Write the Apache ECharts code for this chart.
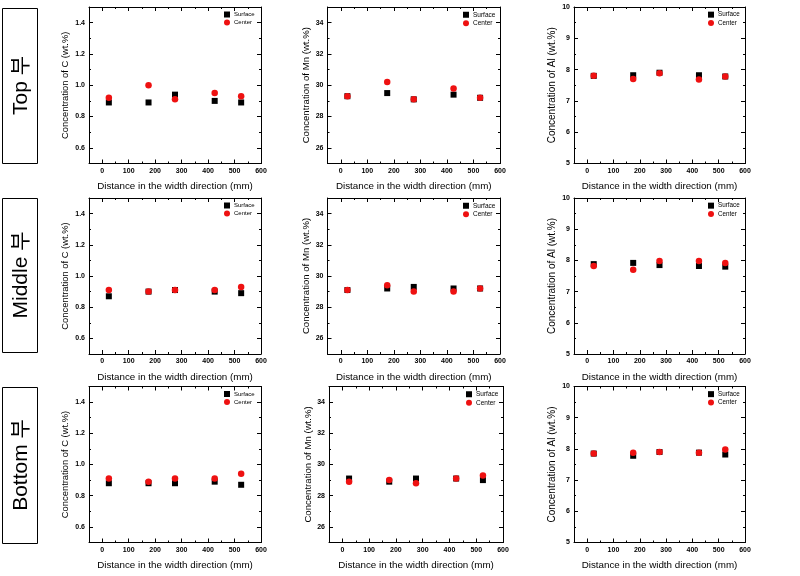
<!DOCTYPE html>
<html>
<head>
<meta charset="utf-8">
<script src="https://cdn.jsdelivr.net/npm/echarts@6/dist/echarts.min.js"></script>
<style>
html,body{margin:0;padding:0;background:#fff;}
#chart{width:800px;height:576px;}
</style>
</head>
<body>
<div id="chart"></div>
<script>
// ---- data ----
const xPositions = [25, 175, 275, 425, 525];
const rowLabels = ['Top 부', 'Middle 부', 'Bottom 부'];
const elementNames = ['C', 'Mn', 'Al'];
const seriesNames = ['Surface', 'Center'];

const topC_surface = [0.89, 0.89, 0.94, 0.90, 0.89];
const topC_center  = [0.92, 1.00, 0.91, 0.95, 0.93];
const topMn_surface = [29.3, 29.5, 29.1, 29.4, 29.2];
const topMn_center  = [29.3, 30.2, 29.1, 29.8, 29.2];
const topAl_surface = [7.80, 7.82, 7.90, 7.82, 7.78];
const topAl_center  = [7.80, 7.70, 7.88, 7.68, 7.78];

const midC_surface = [0.87, 0.90, 0.91, 0.90, 0.89];
const midC_center  = [0.91, 0.90, 0.91, 0.91, 0.93];
const midMn_surface = [29.1, 29.2, 29.3, 29.2, 29.2];
const midMn_center  = [29.1, 29.4, 29.0, 29.0, 29.2];
const midAl_surface = [7.88, 7.92, 7.85, 7.82, 7.80];
const midAl_center  = [7.82, 7.70, 7.98, 7.98, 7.92];

const botC_surface = [0.88, 0.88, 0.88, 0.89, 0.87];
const botC_center  = [0.91, 0.89, 0.91, 0.91, 0.94];
const botMn_surface = [29.1, 28.9, 29.1, 29.1, 29.0];
const botMn_center  = [28.9, 29.0, 28.8, 29.1, 29.3];
const botAl_surface = [7.85, 7.78, 7.90, 7.88, 7.82];
const botAl_center  = [7.85, 7.88, 7.90, 7.88, 7.98];

// ticks
const xRange = [-50, 600];
const xMajorTicks = [0, 100, 200, 300, 400, 500, 600];
const xMinorTicks = [50, 150, 250, 350, 450, 550];
const cRange = [0.5, 1.5];
const cMajorTicks = [0.6, 0.8, 1.0, 1.2, 1.4];
const cMinorTicks = [0.7, 0.9, 1.1, 1.3];
const mnRange = [25, 35];
const mnMajorTicks = [26, 28, 30, 32, 34];
const mnMinorTicks = [27, 29, 31, 33];
const alRange = [5, 10];
const alMajorTicks = [5, 6, 7, 8, 9, 10];
const alMinorTicks = [5.5, 6.5, 7.5, 8.5, 9.5];

const panelData = [
  [[topC_surface, topC_center], [topMn_surface, topMn_center], [topAl_surface, topAl_center]],
  [[midC_surface, midC_center], [midMn_surface, midMn_center], [midAl_surface, midAl_center]],
  [[botC_surface, botC_center], [botMn_surface, botMn_center], [botAl_surface, botAl_center]]
];
const yScales = [
  {range: cRange, major: cMajorTicks, minor: cMinorTicks, dec: 1},
  {range: mnRange, major: mnMajorTicks, minor: mnMinorTicks, dec: 0},
  {range: alRange, major: alMajorTicks, minor: alMinorTicks, dec: 0}
];

// ---- layout ----
const FONT = '"Liberation Sans", Arial, "Noto Sans CJK KR", sans-serif';
const colLayout = [{left: 89, width: 172}, {left: 327.5, width: 172.5}, {left: 574, width: 171}];
const rowLayout = [{top: 7, height: 156.5}, {top: 198, height: 156}, {top: 386.5, height: 156}];
const yNameGap = [19, 16, 16.5];
const yNameSize = [9.4, 9.6, 10];
const legendSize = [6, 6.5, 6.3];
const labelBoxes = [{y: 8, h: 155}, {y: 198, h: 154}, {y: 387, h: 156}];

const grids = [], xAxes = [], yAxes = [], series = [], legends = [];
const black = '#000';
const red = '#ee1111';

for (let r = 0; r < 3; r++) {
  for (let c = 0; c < 3; c++) {
    const i = r * 3 + c;
    let left = colLayout[c].left, width = colLayout[c].width;
    if (r === 2 && c === 1) { left = 329; width = 174; }
    const top = rowLayout[r].top, height = rowLayout[r].height;
    grids.push({left: left, top: top, width: width, height: height, containLabel: false});
    const ys = yScales[c];

    // x axes: bottom major, bottom minor, top major, top minor
    xAxes.push({
      type: 'value', gridIndex: i, position: 'bottom', min: xRange[0], max: xRange[1],
      name: 'Distance in the width direction (mm)', nameLocation: 'middle', nameGap: 18,
      nameTextStyle: {fontFamily: FONT, fontSize: 9.8, color: black},
      axisLine: {show: true, onZero: false, lineStyle: {color: black, width: 1}},
      axisTick: {show: true, inside: true, length: 4, customValues: xMajorTicks, lineStyle: {color: black}},
      axisLabel: {show: true, customValues: xMajorTicks, fontFamily: FONT, fontSize: 7, fontWeight: 'bold', color: black, margin: 4},
      splitLine: {show: false}
    });
    xAxes.push({
      type: 'value', gridIndex: i, position: 'bottom', min: xRange[0], max: xRange[1],
      axisLine: {show: false, onZero: false},
      axisTick: {show: true, inside: true, length: 2, customValues: xMinorTicks, lineStyle: {color: black}},
      axisLabel: {show: false}, splitLine: {show: false}
    });
    xAxes.push({
      type: 'value', gridIndex: i, position: 'top', min: xRange[0], max: xRange[1],
      axisLine: {show: true, onZero: false, lineStyle: {color: black, width: 1}},
      axisTick: {show: true, inside: true, length: 4, customValues: xMajorTicks, lineStyle: {color: black}},
      axisLabel: {show: false}, splitLine: {show: false}
    });
    xAxes.push({
      type: 'value', gridIndex: i, position: 'top', min: xRange[0], max: xRange[1],
      axisLine: {show: false, onZero: false},
      axisTick: {show: true, inside: true, length: 2, customValues: xMinorTicks, lineStyle: {color: black}},
      axisLabel: {show: false}, splitLine: {show: false}
    });

    // y axes: left major, left minor, right major, right minor
    yAxes.push({
      type: 'value', gridIndex: i, position: 'left', min: ys.range[0], max: ys.range[1],
      name: 'Concentration of ' + elementNames[c] + ' (wt.%)', nameLocation: 'middle', nameGap: yNameGap[c],
      nameTextStyle: {fontFamily: FONT, fontSize: yNameSize[c], color: black},
      axisLine: {show: true, onZero: false, lineStyle: {color: black, width: 1}},
      axisTick: {show: true, inside: true, length: 4, customValues: ys.major, lineStyle: {color: black}},
      axisLabel: {show: true, customValues: ys.major, fontFamily: FONT, fontSize: 7, fontWeight: 'bold', color: black, margin: 4,
        formatter: (function (d) { return function (v) { return Number(v).toFixed(d); }; })(ys.dec)},
      splitLine: {show: false}
    });
    yAxes.push({
      type: 'value', gridIndex: i, position: 'left', min: ys.range[0], max: ys.range[1],
      axisLine: {show: false, onZero: false},
      axisTick: {show: true, inside: true, length: 2, customValues: ys.minor, lineStyle: {color: black}},
      axisLabel: {show: false}, splitLine: {show: false}
    });
    yAxes.push({
      type: 'value', gridIndex: i, position: 'right', min: ys.range[0], max: ys.range[1],
      axisLine: {show: true, onZero: false, lineStyle: {color: black, width: 1}},
      axisTick: {show: true, inside: true, length: 4, customValues: ys.major, lineStyle: {color: black}},
      axisLabel: {show: false}, splitLine: {show: false}
    });
    yAxes.push({
      type: 'value', gridIndex: i, position: 'right', min: ys.range[0], max: ys.range[1],
      axisLine: {show: false, onZero: false},
      axisTick: {show: true, inside: true, length: 2, customValues: ys.minor, lineStyle: {color: black}},
      axisLabel: {show: false}, splitLine: {show: false}
    });

    const pd = panelData[r][c];
    series.push({
      type: 'scatter', name: seriesNames[0], xAxisIndex: 4 * i, yAxisIndex: 4 * i,
      symbol: 'rect', symbolSize: 6, itemStyle: {color: black, opacity: 1},
      data: xPositions.map((x, k) => [x, pd[0][k]]), z: 3
    });
    series.push({
      type: 'scatter', name: seriesNames[1], xAxisIndex: 4 * i, yAxisIndex: 4 * i,
      symbol: 'circle', symbolSize: 6.5, itemStyle: {color: red, opacity: 1},
      data: xPositions.map((x, k) => [x, pd[1][k]]), z: 4
    });

    legends.push({
      data: seriesNames, orient: 'vertical', left: left + width - 37, top: top + 4.5,
      padding: 0, itemGap: 2, itemWidth: 6, itemHeight: 6, selectedMode: false,
      textStyle: {fontFamily: FONT, fontSize: legendSize[c], color: black, lineHeight: 6, padding: [0, 0, 0, -1]}
    });
  }
}

const graphics = [];
for (let r = 0; r < 3; r++) {
  const b = labelBoxes[r];
  graphics.push({
    type: 'rect', shape: {x: 2.5, y: b.y + 0.5, width: 35, height: b.h},
    style: {fill: '#fff', stroke: '#000', lineWidth: 1}, z: 10
  });
  graphics.push({
    type: 'text', x: 21, y: b.y + b.h / 2, rotation: Math.PI / 2,
    style: {text: rowLabels[r], fontFamily: FONT, fontSize: 21, fill: '#000', textAlign: 'center', textVerticalAlign: 'middle'},
    z: 11
  });
}

const chart = echarts.init(document.getElementById('chart'), null, {renderer: 'canvas'});
chart.setOption({
  backgroundColor: '#fff',
  animation: false,
  grid: grids,
  xAxis: xAxes,
  yAxis: yAxes,
  legend: legends,
  series: series,
  graphic: graphics
});
</script>
</body>
</html>
